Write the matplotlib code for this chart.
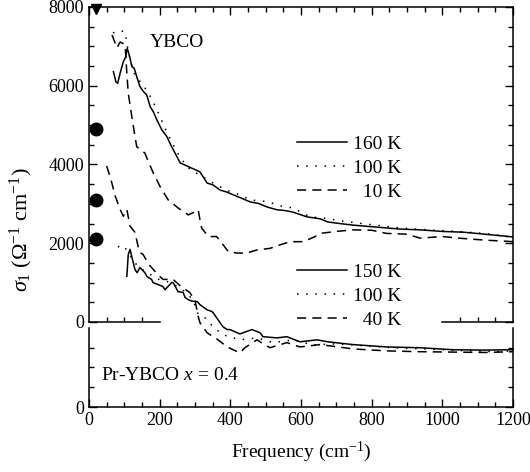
import numpy as np
import matplotlib
matplotlib.use('Agg')
import matplotlib.pyplot as plt
from matplotlib.lines import Line2D
from matplotlib.ticker import MultipleLocator

plt.rcParams['font.family'] = 'Liberation Serif'
plt.rcParams['mathtext.fontset'] = 'custom'
plt.rcParams['mathtext.rm'] = 'Liberation Serif'
plt.rcParams['mathtext.it'] = 'Liberation Serif:italic'

# YBCO (upper panel, values in ohm^-1 cm^-1)
f_160 = [69, 76, 81, 88, 97, 104, 108, 111, 116, 121, 128, 135, 144, 154, 163, 173, 182, 192, 206, 220,
         234, 258, 280, 300, 314, 334, 351, 371, 390, 408, 430, 456, 480, 504, 532, 555, 577, 617, 654, 676,
         710, 747, 800, 880, 937, 1000, 1060, 1120, 1200]
s_160 = [6360, 6100, 6060, 6320, 6610, 6740, 6950, 6870, 6700, 6490, 6440, 6230, 5980, 5850, 5770, 5470, 5340, 5130, 4880, 4710,
         4450, 4040, 3950, 3870, 3810, 3530, 3480, 3350, 3300, 3230, 3150, 3050, 3010, 2920, 2850, 2830, 2790, 2670, 2620, 2540,
         2500, 2460, 2420, 2360, 2340, 2300, 2280, 2230, 2160]

f_100 = [68, 80, 91, 102, 110, 122, 130, 145, 163, 181, 196, 224, 250, 277, 300, 330, 360, 399, 427, 456,
         504, 549, 577, 625, 662, 720, 800, 880, 960, 1040, 1120, 1200]
s_100 = [7340, 7400, 7390, 7370, 6910, 6480, 6270, 6100, 5890, 5600, 5310, 4750, 4300, 3940, 3800, 3650, 3480, 3310, 3230, 3100,
         3060, 2930, 2900, 2670, 2640, 2560, 2470, 2390, 2340, 2300, 2250, 2150]

f_10 = [65, 79, 88, 102, 107, 111, 121, 130, 135, 158, 168, 182, 201, 224, 253, 281, 300, 309, 314, 319,
        338, 361, 376, 394, 418, 446, 475, 512, 541, 569, 607, 640, 654, 700, 748, 800, 842, 900, 937, 1000,
        1060, 1120, 1200]
s_10 = [7290, 6960, 7110, 7040, 6320, 5810, 5220, 4710, 4450, 4290, 4070, 3780, 3440, 3100, 2890, 2720, 2800, 2850, 2590, 2380,
        2170, 2170, 2000, 1790, 1750, 1750, 1830, 1870, 1960, 2040, 2040, 2170, 2250, 2300, 2340, 2330, 2250, 2230, 2130, 2170,
        2120, 2080, 2040]

# Pr-YBCO x = 0.4 (lower panel)
f_p150 = [107, 111, 116, 125, 130, 136, 144, 158, 164, 177, 181, 195, 209, 215, 234, 238, 252, 266, 272, 280,
          291, 306, 314, 334, 347, 351, 365, 379, 391, 399, 427, 461, 484, 492, 532, 560, 597, 645, 676, 747,
          843, 937, 1030, 1120, 1200]
s_p150 = [3310, 3860, 3990, 3660, 3480, 3400, 3530, 3400, 3300, 3230, 3150, 3100, 3050, 2970, 3150, 3150, 2920, 2900, 2770, 2720,
          2680, 2670, 2590, 2460, 2420, 2390, 2210, 2030, 1960, 1960, 1850, 1960, 1880, 1780, 1750, 1780, 1650, 1700, 1650, 1580,
          1520, 1500, 1450, 1440, 1450]

f_p100 = [82, 92, 102, 112, 125, 140, 160, 180, 200, 220, 240, 260, 280, 295, 309, 330, 351, 379, 427, 475,
          521, 577, 634, 700, 780, 860, 950, 1050, 1150, 1200]
s_p100 = [4070, 3990, 4030, 3900, 3700, 3550, 3420, 3320, 3220, 3180, 3100, 3000, 2850, 2700, 2340, 2250, 2030, 1830, 1700, 1750,
          1630, 1700, 1570, 1600, 1550, 1500, 1470, 1430, 1400, 1420]

f_p40 = [50, 64, 74, 88, 97, 107, 116, 130, 139, 144, 153, 170, 190, 209, 238, 260, 285, 300, 309, 314,
         334, 351, 365, 391, 427, 441, 475, 512, 560, 597, 654, 747, 843, 937, 1030, 1120, 1200]
s_p40 = [6100, 5690, 5340, 5000, 4830, 5000, 4580, 4420, 4060, 3910, 3860, 3600, 3400, 3230, 3230, 3050, 2900, 2700, 2290, 2130,
         1880, 1780, 1700, 1520, 1370, 1500, 1700, 1500, 1630, 1520, 1580, 1470, 1420, 1400, 1390, 1380, 1400]

# DC values
f_dc = [20, 20, 20]
s_dc = [7040, 5230, 4240]
f_dc_ybco = 20
s_dc_ybco = 7950

solid = '-'
dotted = (0, (1, 5))
dashed = (0, (6, 4))
lw = 1.1

fig = plt.figure(figsize=(5.3, 4.72), dpi=100)
ax1 = fig.add_axes([0.168, 0.3178, 0.8, 0.6674])
ax2 = fig.add_axes([0.168, 0.1377, 0.8, 0.1674])

ax1.plot(f_160, s_160, color='k', ls=solid, lw=lw)
ax1.plot(f_100, s_100, color='k', ls=dotted, lw=lw)
ax1.plot(f_10, s_10, color='k', ls=dashed, lw=lw)
ax1.plot(f_dc_ybco, s_dc_ybco, 'kv', ms=6.5, clip_on=False)

ax2.plot(f_p150, s_p150, color='k', ls=solid, lw=lw, clip_on=False)
ax2.plot(f_p100, s_p100, color='k', ls=dotted, lw=lw, clip_on=False)
ax2.plot(f_p40, s_p40, color='k', ls=dashed, lw=lw, clip_on=False)
ax2.plot(f_dc, s_dc, 'ko', ms=9, clip_on=False)

for ax in (ax1, ax2):
    ax.set_xlim(0, 1200)
    ax.xaxis.set_major_locator(MultipleLocator(200))
    ax.xaxis.set_minor_locator(MultipleLocator(50))
    ax.yaxis.set_minor_locator(MultipleLocator(500))
    ax.tick_params(which='both', direction='in', labelsize=13, width=1)
    ax.tick_params(which='major', length=6)
    ax.tick_params(which='minor', length=3.5)
    for s in ax.spines.values():
        s.set_linewidth(1.1)

ax1.set_ylim(0, 8000)
ax1.yaxis.set_major_locator(MultipleLocator(2000))
ax1.tick_params(which='both', top=True, bottom=False, right=True, labelbottom=False)
ax1.spines['bottom'].set_bounds(0, 200)
ax1.axhline(0, xmin=1000 / 1200, xmax=1, color='k', lw=1.1, clip_on=False)
ax1.plot([50, 100, 150, 1050, 1100, 1150], [0] * 6, ls='none', marker=2, ms=3.5,
         mew=1, color='k', clip_on=False)

ax2.set_ylim(0, 2000)
ax2.set_yticks([0])
ax2.set_yticks([500, 1000, 1500], minor=True)
ax2.spines['top'].set_visible(False)
ax2.tick_params(which='both', top=False, right=True)

ax1.text(173, 7100, 'YBCO', fontsize=14, va='center')
ax2.text(35, 800, 'Pr-YBCO $x$ = 0.4', fontsize=14, va='center')

ax2.set_xlabel('Frequency (cm$^{-1}$)', fontsize=14, labelpad=8)
fig.text(0.04, 0.513, r'$\sigma_1$ ($\Omega^{-1}$ cm$^{-1}$)', rotation=90,
         fontsize=16, ha='center', va='center')

h1 = [Line2D([], [], color='k', ls=solid, lw=lw),
      Line2D([], [], color='k', ls=dotted, lw=lw),
      Line2D([], [], color='k', ls=dashed, lw=lw)]
leg1 = ax1.legend(h1, ['160 K', '100 K', '  10 K'], loc='center left',
                  bbox_to_anchor=(0.49, 0.489), frameon=False, fontsize=14,
                  handlelength=2.6, handletextpad=0.3, labelspacing=0.32,
                  borderpad=0, borderaxespad=0)
ax1.add_artist(leg1)
leg2 = ax1.legend(h1, ['150 K', '100 K', '  40 K'], loc='center left',
                  bbox_to_anchor=(0.49, 0.0825), frameon=False, fontsize=14,
                  handlelength=2.6, handletextpad=0.3, labelspacing=0.32,
                  borderpad=0, borderaxespad=0)

fig.savefig('out.png', dpi=100)
